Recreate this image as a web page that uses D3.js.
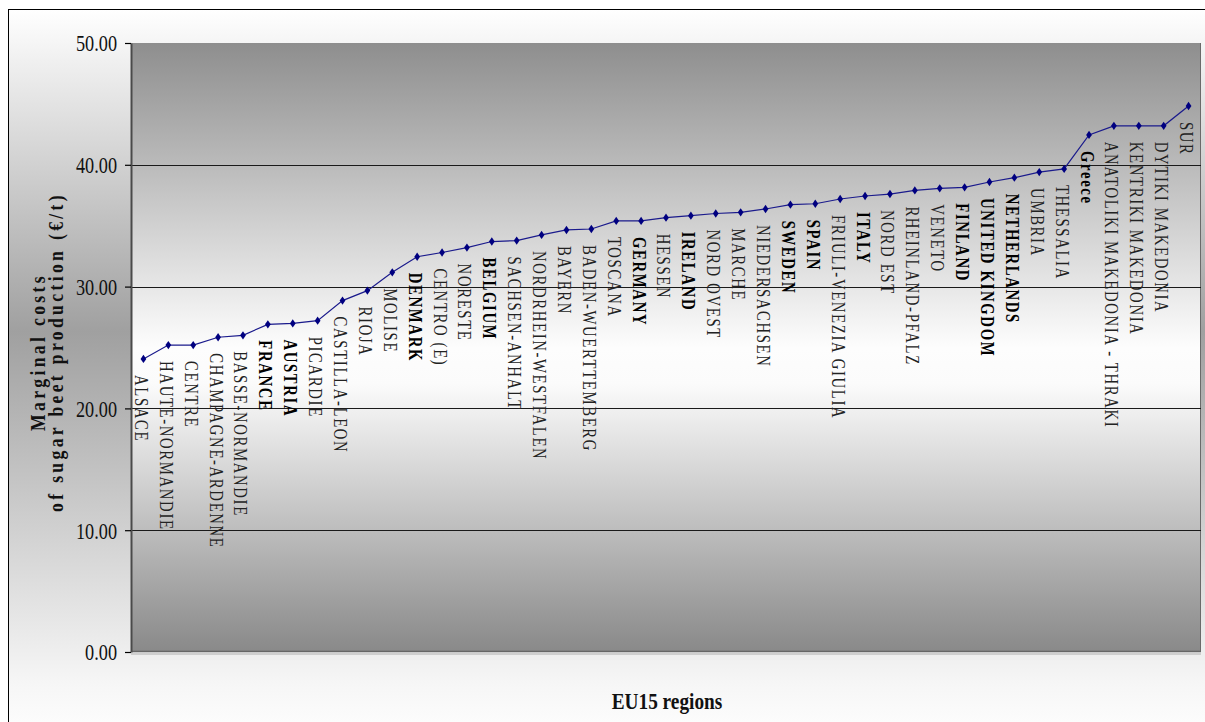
<!DOCTYPE html>
<html>
<head>
<meta charset="utf-8">
<script src="https://cdn.jsdelivr.net/npm/d3@7"></script>
<style>
  html, body { margin: 0; padding: 0; background: #ffffff; }
  svg { display: block; }
  text { font-family: "Liberation Serif", "Times New Roman", serif; }
</style>
</head>
<body>
<svg id="chart" width="1205" height="722"></svg>
<script>
// Regions ordered by marginal cost of sugar beet production
const categories = [
  "ALSACE", "HAUTE-NORMANDIE", "CENTRE", "CHAMPAGNE-ARDENNE", "BASSE-NORMANDIE",
  "FRANCE", "AUSTRIA", "PICARDIE", "CASTILLA-LEON", "RIOJA",
  "MOLISE", "DENMARK", "CENTRO (E)", "NORESTE", "BELGIUM",
  "SACHSEN-ANHALT", "NORDRHEIN-WESTFALEN", "BAYERN", "BADEN-WUERTTEMBERG", "TOSCANA",
  "GERMANY", "HESSEN", "IRELAND", "NORD OVEST", "MARCHE",
  "NIEDERSACHSEN", "SWEDEN", "SPAIN", "FRIULI-VENEZIA GIULIA", "ITALY",
  "NORD EST", "RHEINLAND-PFALZ", "VENETO", "FINLAND", "UNITED KINGDOM",
  "NETHERLANDS", "UMBRIA", "THESSALIA", "Greece", "ANATOLIKI MAKEDONIA - THRAKI",
  "KENTRIKI MAKEDONIA", "DYTIKI MAKEDONIA", "SUR"
];

// Marginal costs (EUR per tonne)
const costs = [
  24.06, 25.20, 25.20, 25.84, 26.00,
  26.90, 26.98, 27.20, 28.85, 29.67,
  31.17, 32.45, 32.80, 33.20, 33.70,
  33.78, 34.24, 34.65, 34.73, 35.39,
  35.39, 35.66, 35.82, 36.00, 36.10,
  36.37, 36.73, 36.80, 37.19, 37.44,
  37.60, 37.90, 38.07, 38.15, 38.59,
  38.94, 39.40, 39.66, 42.45, 43.20,
  43.20, 43.20, 44.83
];

// Member states (shown in bold) as opposed to sub-national regions
const memberStates = [
  "FRANCE", "AUSTRIA", "DENMARK", "BELGIUM", "GERMANY", "IRELAND", "SWEDEN",
  "SPAIN", "ITALY", "FINLAND", "UNITED KINGDOM", "NETHERLANDS", "Greece"
];

const yTicks = [0, 10, 20, 30, 40, 50];
const yTitle = ["Marginal costs", "of sugar beet production (\u20ac/t)"];
const xTitle = "EU15 regions";

const data = categories.map((c, i) => ({ name: c, value: costs[i], bold: memberStates.includes(c) }));

const svg = d3.select("#chart");
const W = 1205, H = 722;
const plot = { left: 131, right: 1201, top: 43, bottom: 652 };

const defs = svg.append("defs");

// chart-area fill: white at the edges, grey band through the middle
const outerGrad = defs.append("linearGradient")
  .attr("id", "outerGrad").attr("x1", 0).attr("y1", 0).attr("x2", 0).attr("y2", 1);
[[0, "#ffffff"], [0.44, "#a0a0a0"], [0.92, "#f6f6f6"], [1, "#ffffff"]]
  .forEach(([o, c]) => outerGrad.append("stop").attr("offset", o).attr("stop-color", c));

// plot-area fill: grey at top and bottom, white through the middle
const plotGrad = defs.append("linearGradient")
  .attr("id", "plotGrad").attr("x1", 0).attr("y1", 0).attr("x2", 0).attr("y2", 1);
[[0, "#8e8e8e"], [0.5, "#fdfdfd"], [0.56, "#fbfbfb"], [1, "#898989"]]
  .forEach(([o, c]) => plotGrad.append("stop").attr("offset", o).attr("stop-color", c));

svg.append("rect").attr("x", 0).attr("y", 0).attr("width", W).attr("height", H).attr("fill", "#ffffff");
svg.append("rect")
  .attr("x", 8.5).attr("y", 9.5).attr("width", W + 10).attr("height", H + 10)
  .attr("fill", "url(#outerGrad)").attr("stroke", "#000").attr("stroke-width", 1);

const x = d3.scaleBand().domain(categories).range([plot.left, plot.right]);
const y = d3.scaleLinear().domain([0, 50]).range([plot.bottom, plot.top]);
const cx = d => x(d) + x.bandwidth() / 2;

// plot background with shadow edge
svg.append("rect")
  .attr("x", plot.left).attr("y", plot.bottom + 1)
  .attr("width", plot.right - plot.left).attr("height", 2)
  .attr("fill", "#cfcfcf");
svg.append("rect")
  .attr("x", plot.left).attr("y", plot.top)
  .attr("width", plot.right - plot.left).attr("height", plot.bottom - plot.top)
  .attr("fill", "url(#plotGrad)");
svg.append("line")
  .attr("x1", plot.right - 0.5).attr("x2", plot.right - 0.5)
  .attr("y1", plot.top).attr("y2", plot.bottom)
  .attr("stroke", "#6a6a6a").attr("stroke-width", 1);
svg.append("line")
  .attr("x1", plot.left).attr("x2", plot.right)
  .attr("y1", plot.bottom - 0.5).attr("y2", plot.bottom - 0.5)
  .attr("stroke", "#666").attr("stroke-width", 1.5);

// horizontal gridlines
svg.append("g").selectAll("line")
  .data(yTicks.filter(t => t > 0 && t < 50))
  .join("line")
  .attr("x1", plot.left).attr("x2", plot.right)
  .attr("y1", d => Math.round(y(d)) + 0.5).attr("y2", d => Math.round(y(d)) + 0.5)
  .attr("stroke", "#1a1a1a").attr("stroke-width", 1);

// y axis
const yAxis = svg.append("g")
  .attr("transform", `translate(${plot.left},0)`)
  .call(d3.axisLeft(y).tickValues(yTicks).tickFormat(d3.format(".2f")).tickSize(6).tickSizeOuter(0));
yAxis.select(".domain").attr("stroke", "#4a4a4a").attr("stroke-width", 2);
yAxis.selectAll(".tick line").attr("stroke", "#000").attr("stroke-width", 1.2);
yAxis.selectAll(".tick text")
  .attr("x", null).attr("dy", null)
  .attr("fill", "#111")
  .attr("font-size", 24)
  .attr("font-family", "Liberation Serif, serif")
  .attr("text-anchor", "end")
  .attr("dominant-baseline", "central")
  .attr("transform", "translate(-14,0) scale(0.76,1)");

// cost curve
const line = d3.line().x(d => cx(d.name)).y(d => y(d.value));
svg.append("path")
  .datum(data)
  .attr("d", line)
  .attr("fill", "none")
  .attr("stroke", "#1a1a8c")
  .attr("stroke-width", 1.2);

svg.append("g").selectAll("path")
  .data(data)
  .join("path")
  .attr("d", d3.symbol(d3.symbolDiamond, 20))
  .attr("transform", d => `translate(${cx(d.name)},${y(d.value)}) scale(1.2,1)`)
  .attr("fill", "#000080");

// region names hanging below each point
svg.append("g").selectAll("text")
  .data(data)
  .join("text")
  .attr("transform", d => `translate(${cx(d.name) - 2.5},${y(d.value) + 16}) rotate(90) scale(0.82,1)`)
  .attr("text-anchor", "start")
  .attr("dominant-baseline", "central")
  .attr("font-size", 18)
  .attr("letter-spacing", 2)
  .attr("font-weight", d => d.bold ? "bold" : "normal")
  .attr("fill", d => d.bold ? "#000" : "#222")
  .text(d => d.name);

// axis titles
const yt = svg.append("text")
  .attr("transform", "translate(45,352) rotate(-90) scale(0.8,1)")
  .attr("text-anchor", "middle")
  .attr("font-size", 22)
  .attr("font-weight", "bold")
  .attr("letter-spacing", 4.2)
  .attr("fill", "#111");
yt.append("tspan").attr("x", 0).attr("y", 0).text(yTitle[0]);
yt.append("tspan").attr("x", 0).attr("y", 18).text(yTitle[1]);

svg.append("text")
  .attr("transform", "translate(667,709) scale(0.84,1)")
  .attr("text-anchor", "middle")
  .attr("font-size", 23)
  .attr("font-weight", "bold")
  .attr("fill", "#111")
  .text(xTitle);
</script>
</body>
</html>
